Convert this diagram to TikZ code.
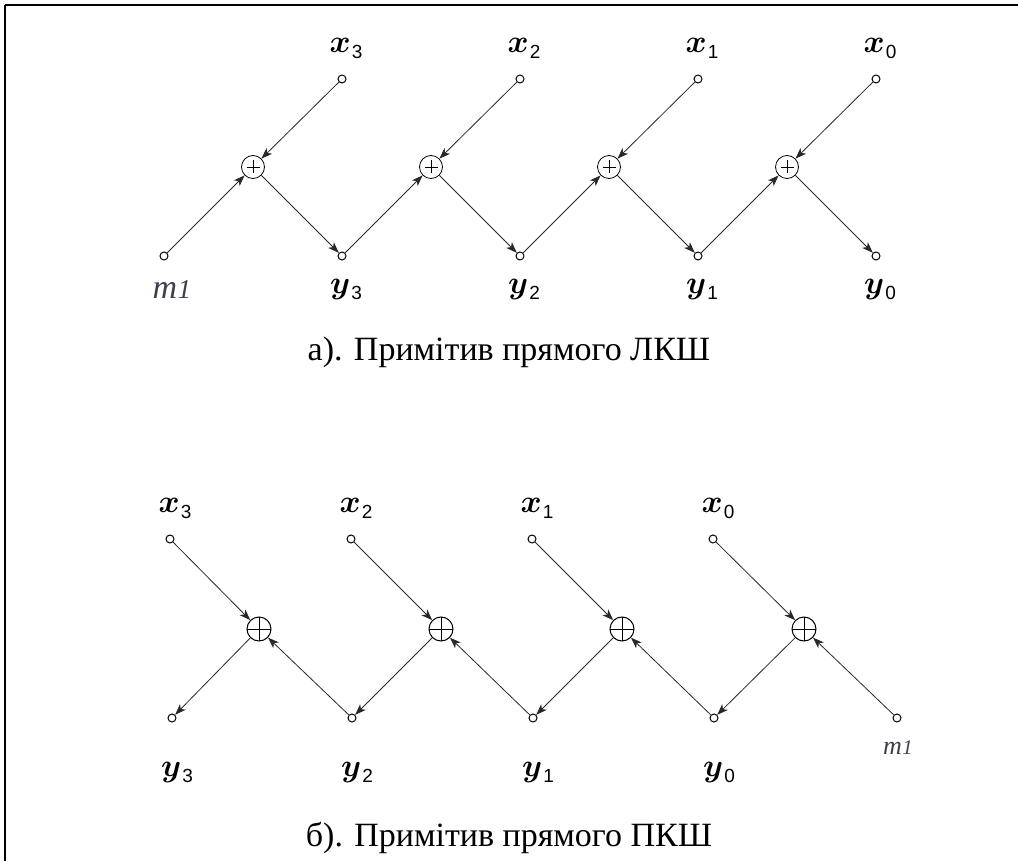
\documentclass[tikz,border=0pt]{standalone}
\usepackage{graphicx}
\usepackage{fontspec}
\usepackage{bm}
\setmainfont{Liberation Serif}
\newfontfamily\digitfont{Liberation Sans}
\usetikzlibrary{arrows.meta}
\definecolor{wire}{RGB}{40,40,40}
\definecolor{mcol}{RGB}{70,58,78}

% signal label: bold italic letter with an upright index
\newcommand\siglabel[2]{\scalebox{3.2}{$\bm{#1}$}\kern1pt\raisebox{-6pt}{\digitfont\fontsize{19}{19}\selectfont #2}}
% key label m1
\newcommand\keylabel[1]{\textcolor{mcol}{\fontsize{#1}{#1}\selectfont\itshape m\kern0.5pt{\fontsize{0.8\dimexpr #1pt\relax}{1}\selectfont 1}}}

\begin{document}
\begin{tikzpicture}[x=1pt,y=-1pt,
  term/.style={circle,draw=black,line width=1pt,fill=white,inner sep=0pt,minimum size=8pt},
  adderA/.style={circle,draw=black,line width=0.8pt,inner sep=0pt,minimum size=23pt,
    path picture={\draw[line width=0.9pt]
      ([yshift=6.5pt]path picture bounding box.center) -- ([yshift=-6.5pt]path picture bounding box.center)
      ([xshift=-6.5pt]path picture bounding box.center) -- ([xshift=6.5pt]path picture bounding box.center);}},
  adderB/.style={circle,draw=black,line width=1pt,inner sep=0pt,minimum size=24pt,
    path picture={\draw[line width=1pt]
      (path picture bounding box.north) -- (path picture bounding box.south)
      (path picture bounding box.west) -- (path picture bounding box.east);}},
  flow/.style={draw=wire,line width=0.8pt,-{Stealth[length=11pt,width=8pt,inset=3pt]}},
  lab/.style={inner sep=0pt},
  caption/.style={inner sep=0pt,font=\fontsize{34}{34}\selectfont}
]
\useasboundingbox (0,0) rectangle (1018,861);

% frame edges
\draw[line width=2pt] (5,5) coordinate (fa) -- (1018,5) coordinate (fb);
\draw[line width=1.5pt] (fa) -- (5,861) coordinate (fc);

% ---------- a) direct LKSh ----------
\node[term] (am) at (164,256) {};
\node[term] (ay3) at (342,256) {};
\node[term] (ay2) at (520,256) {};
\node[term] (ay1) at (698,256) {};
\node[term] (ay0) at (876,256) {};
\node[term] (ax3) at (342,79) {};
\node[term] (ax2) at (520,79) {};
\node[term] (ax1) at (698,79) {};
\node[term] (ax0) at (876,79) {};
\node[adderA] (aa3) at (253,167) {};
\node[adderA] (aa2) at (431,167) {};
\node[adderA] (aa1) at (609,167) {};
\node[adderA] (aa0) at (787,167) {};

\draw[flow] (am) -- (aa3);
\draw[flow] (ax3) -- (aa3);
\draw[flow] (aa3) -- (ay3);
\draw[flow] (ay3) -- (aa2);
\draw[flow] (ax2) -- (aa2);
\draw[flow] (aa2) -- (ay2);
\draw[flow] (ay2) -- (aa1);
\draw[flow] (ax1) -- (aa1);
\draw[flow] (aa1) -- (ay1);
\draw[flow] (ay1) -- (aa0);
\draw[flow] (ax0) -- (aa0);
\draw[flow] (aa0) -- (ay0);

\node[lab] (lax3) at (346,48) {\siglabel{x}{3}};
\node[lab] (lax2) at (524,48) {\siglabel{x}{2}};
\node[lab] (lax1) at (702,48) {\siglabel{x}{1}};
\node[lab] (lax0) at (880,48) {\siglabel{x}{0}};
\node[lab] (lay3) at (346,290) {\siglabel{y}{3}};
\node[lab] (lay2) at (524,290) {\siglabel{y}{2}};
\node[lab] (lay1) at (702,290) {\siglabel{y}{1}};
\node[lab] (lay0) at (880,290) {\siglabel{y}{0}};
\node[lab] (lam) at (172,290) {\keylabel{34}};

\node[caption] (capa) at (509,352) {а). Примітив прямого ЛКШ};

% ---------- b) direct PKSh ----------
\node[term] (bx3) at (170,539) {};
\node[term] (bx2) at (351,539) {};
\node[term] (bx1) at (532,539) {};
\node[term] (bx0) at (713,539) {};
\node[term] (by3) at (172,718) {};
\node[term] (by2) at (352,718) {};
\node[term] (by1) at (533,718) {};
\node[term] (by0) at (714,718) {};
\node[term] (bm) at (897,718) {};
\node[adderB] (ba3) at (259,629) {};
\node[adderB] (ba2) at (441,629) {};
\node[adderB] (ba1) at (622,629) {};
\node[adderB] (ba0) at (804,629) {};

\draw[flow] (bx3) -- (ba3);
\draw[flow] (ba3) -- (by3);
\draw[flow] (by2) -- (ba3);
\draw[flow] (bx2) -- (ba2);
\draw[flow] (ba2) -- (by2);
\draw[flow] (by1) -- (ba2);
\draw[flow] (bx1) -- (ba1);
\draw[flow] (ba1) -- (by1);
\draw[flow] (by0) -- (ba1);
\draw[flow] (bx0) -- (ba0);
\draw[flow] (ba0) -- (by0);
\draw[flow] (bm) -- (ba0);

\node[lab] (lbx3) at (175,508) {\siglabel{x}{3}};
\node[lab] (lbx2) at (356,508) {\siglabel{x}{2}};
\node[lab] (lbx1) at (537,508) {\siglabel{x}{1}};
\node[lab] (lbx0) at (718,508) {\siglabel{x}{0}};
\node[lab] (lby3) at (177,772) {\siglabel{y}{3}};
\node[lab] (lby2) at (357,772) {\siglabel{y}{2}};
\node[lab] (lby1) at (538,772) {\siglabel{y}{1}};
\node[lab] (lby0) at (719,772) {\siglabel{y}{0}};
\node[lab] (lbm) at (898,748) {\keylabel{26}};

\node[caption] (capb) at (509,838) {б). Примітив прямого ПКШ};
\end{tikzpicture}
\end{document}
